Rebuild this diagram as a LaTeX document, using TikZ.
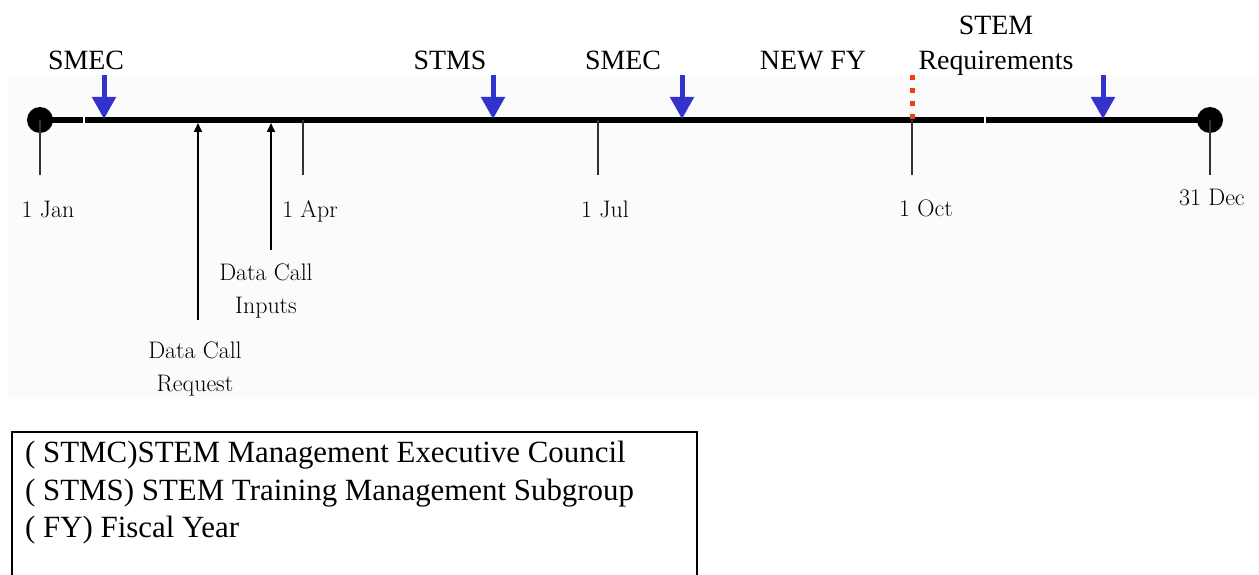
\documentclass[tikz,border=0pt]{standalone}
\usepackage{fontspec}
\newfontfamily\timesfont{Liberation Serif}
\usetikzlibrary{arrows.meta}
\definecolor{meetblue}{RGB}{51,51,204}
\definecolor{fyred}{RGB}{240,64,16}
\tikzset{
  event/.style={draw=none,font=\timesfont\fontsize{28}{30}\selectfont,anchor=base},
  date/.style={draw=none,font=\fontsize{24}{26}\selectfont,anchor=base},
  call/.style={draw=none,font=\fontsize{24}{33}\selectfont,align=center},
  meeting/.style={meetblue,line width=5bp,-{Triangle[width=23bp,length=22bp]}},
  datacall/.style={line width=1.6bp,-{Triangle[width=8bp,length=9bp]}},
  tick/.style={black!80,line width=1.8bp}
}
\begin{document}
\begin{tikzpicture}[x=1bp,y=-1bp]
\useasboundingbox (0,0) rectangle (1259,575);
\clip (0,0) rectangle (1259,575);
\fill[black!1.5] (8,75) rectangle (1259,398);
% points on the year line
\coordinate (jan) at (40,120);
\coordinate (apr) at (303,120);
\coordinate (jul) at (598,120);
\coordinate (oct) at (912,120);
\coordinate (dec) at (1210,120);
\draw[line width=6bp] (jan) -- (dec);
\draw[white,line width=1.2bp] (84,116) -- (84,124) (985,116) -- (985,124);
\fill (jan) circle (13);
\fill (dec) circle (13);
% quarter ticks
\coordinate (janend) at (40,175);
\coordinate (aprend) at (303,175);
\coordinate (julend) at (598,175);
\coordinate (octend) at (912,175);
\coordinate (decend) at (1210,175);
\draw[tick] (jan) -- (janend);
\draw[tick] (apr) -- (aprend);
\draw[tick] (jul) -- (julend);
\draw[tick] (oct) -- (octend);
\draw[tick] (dec) -- (decend);
\node[date] (janlbl) at (48,218) {1 Jan};
\node[date] (aprlbl) at (310,218) {1 Apr};
\node[date] (jullbl) at (605,218) {1 Jul};
\node[date] (octlbl) at (926,217) {1 Oct};
\node[date,anchor=base west,inner sep=0pt] (declbl) at (1179,206) {31 Dec};
% meetings
\node[event] (smec1) at (86,70) {SMEC};
\node[event] (stms) at (450,70) {STMS};
\node[event] (smec2) at (623,70) {SMEC};
\node[event] (newfy) at (813,70) {NEW FY};
\node[event] (req) at (996,70) {Requirements};
\node[event] (stem) at (996,35) {STEM};
\coordinate (smec1top) at (104,75);
\coordinate (smec1hit) at (104,119);
\coordinate (stmstop) at (493,75);
\coordinate (stmshit) at (493,119);
\coordinate (smec2top) at (682,75);
\coordinate (smec2hit) at (682,119);
\coordinate (reqtop) at (1103,75);
\coordinate (reqhit) at (1103,119);
\draw[meeting] (smec1top) -- (smec1hit);
\draw[meeting] (stmstop) -- (stmshit);
\draw[meeting] (smec2top) -- (smec2hit);
\draw[meeting] (reqtop) -- (reqhit);
\coordinate (fytop) at (912,75);
\draw[fyred,line width=5bp,dash pattern=on 5bp off 8bp] (fytop) -- (oct);
% data call
\node[call] (dcreq) at (195,369) {Data Call\\Request};
\node[call] (dcin) at (266,291) {Data Call\\Inputs};
\coordinate (dcreqend) at (198,320);
\coordinate (dcreqhit) at (198,123);
\coordinate (dcinend) at (271,250);
\coordinate (dcinhit) at (271,123);
\draw[datacall] (dcreqend) -- (dcreqhit);
\draw[datacall] (dcinend) -- (dcinhit);
% key
\draw[line width=2bp] (12,432) rectangle (697,600);
\node[draw=none,anchor=base west,inner sep=0pt,font=\timesfont\fontsize{31}{37}\selectfont] (key1) at (25,462) {( STMC)STEM Management Executive Council};
\node[draw=none,anchor=base west,inner sep=0pt,font=\timesfont\fontsize{31}{37}\selectfont] (key2) at (25,500) {( STMS) STEM Training Management Subgroup};
\node[draw=none,anchor=base west,inner sep=0pt,font=\timesfont\fontsize{31}{37}\selectfont] (key3) at (25,537) {( FY) Fiscal Year};
\end{tikzpicture}
\end{document}
